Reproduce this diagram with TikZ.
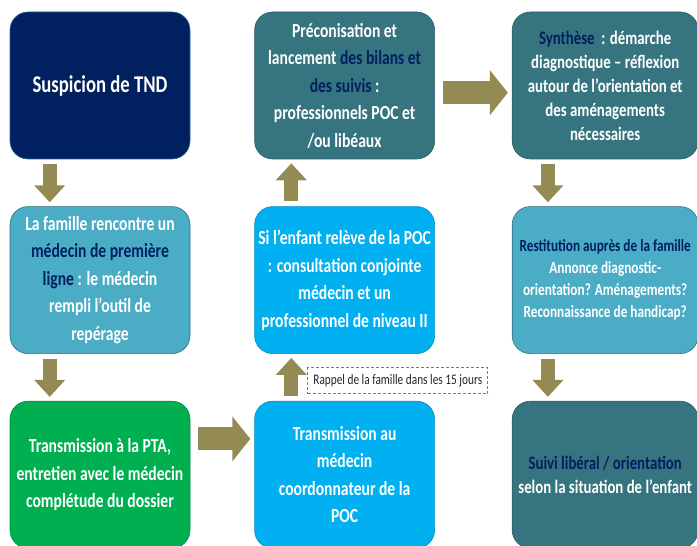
\documentclass[tikz,border=0pt]{standalone}
\usepackage{fontspec}
\setmainfont{Carlito}[FakeStretch=0.78]
\usetikzlibrary{positioning,arrows.meta}
\definecolor{marine}{HTML}{002060}
\definecolor{sarcelleC}{HTML}{36757F}
\definecolor{cielC}{HTML}{4BACC6}
\definecolor{azurC}{HTML}{00B0F0}
\definecolor{vertC}{HTML}{00B050}
\definecolor{olive}{HTML}{948A54}
\newcommand{\mar}[1]{\textcolor{marine}{#1}}

\begin{document}
\begin{tikzpicture}
            [
                boite/.style={rectangle, rounded corners=18pt, minimum width=180pt, minimum height=147pt, align=center, text=white, inner sep=2pt, line width=0.6pt, font=\bfseries\fontsize{20}{27.5}\selectfont},
                fonce/.style={boite, fill=marine, draw=cielC!50!marine},
                sarcelle/.style={boite, fill=sarcelleC, draw=sarcelleC!80!black},
                ciel/.style={boite, fill=cielC, draw=cielC!65!black},
                azur/.style={boite, fill=azurC, draw=azurC!80!black},
                vert/.style={boite, fill=vertC, draw=vertC!80!black},
                droite/.style={minimum width=186pt, font=\bfseries\fontsize{19}{24}\selectfont},
                descente/.style={draw=olive, line width=14pt, -{Triangle[width=30pt,length=17pt]}, shorten <=5pt, shorten >=4pt},
                poussee/.style={draw=olive, line width=23pt, -{Triangle[width=44pt,length=18pt]}, shorten <=8pt, shorten >=4pt},
                rappel/.style={rectangle, color=red!75, line width=1pt, dash pattern=on 3pt off 2pt, fill=white, minimum width=180pt, minimum height=26pt, inner sep=2pt, font=\fontsize{14.5}{16}\selectfont},
                node distance=47pt and 64pt,
            ]
            \useasboundingbox (0,0) rectangle (697pt,546pt);
            %obs: les colonnes
            \node[fonce, font=\bfseries\fontsize{24}{28}\selectfont] (tnd) at (100pt,460.5pt) {Suspicion de TND};
            \node[ciel] (famille) [below=of tnd] {La famille rencontre un\\ \mar{médecin de première}\\ \mar{ligne} : le médecin\\ rempli l’outil de\\ repérage};
            \node[vert] (pta) [below=of famille] {Transmission à la PTA,\\ entretien avec le médecin\\ complétude du dossier};
            \node[sarcelle] (bilans) [right=of tnd] {Préconisation et\\ lancement \mar{des bilans et}\\ \mar{des suivis} :\\ professionnels POC et\\ /ou libéaux};
            \node[azur] (conjointe) [below=of bilans] {Si l’enfant relève de la POC\\ : consultation conjointe\\ médecin et un\\ professionnel de niveau II};
            \node[azur] (poc) [below=of conjointe] {Transmission au\\ médecin\\ coordonnateur de la\\ POC};
            \node[sarcelle, droite] (synthese) [right=77pt of bilans] {\mar{Synthèse}~ : démarche\\ diagnostique – réflexion\\ autour de l’orientation et\\ des aménagements\\ nécessaires};
            \node[ciel, droite, font=\bfseries\fontsize{17}{22}\selectfont] (restitution) [below=of synthese] {\mar{Restitution auprès de la famille}\\ Annonce diagnostic-\\ orientation? Aménagements?\\ Reconnaissance de handicap?};
            \node[sarcelle, droite] (suivi) [below=of restitution] {\mar{Suivi libéral / orientation}\\ selon la situation de l’enfant};
            \node[rappel, draw, text=black!85, anchor=west] (rappel) at ([xshift=53pt, yshift=20pt]poc.north west) {Rappel de la famille dans les 15 jours};

            \draw[descente] ([xshift=40pt]tnd.south west) -- ([xshift=40pt]tnd.south west |- famille.north);
            \draw[descente] ([xshift=40pt]famille.south west) -- ([xshift=40pt]famille.south west |- pta.north);
            \draw[poussee] ([yshift=-38pt]pta.north east) -- ([yshift=-38pt]pta.north east -| poc.west);
            \draw[descente] ([xshift=37pt]poc.north west) -- ([xshift=37pt]poc.north west |- conjointe.south);
            \draw[descente] ([xshift=37pt]conjointe.north west) -- ([xshift=37pt]conjointe.north west |- bilans.south);
            \draw[poussee] ([yshift=-81pt]bilans.north east) -- ([yshift=-81pt]bilans.north east -| synthese.west);
            \draw[descente] ([xshift=36pt]synthese.south west) -- ([xshift=36pt]synthese.south west |- restitution.north);
            \draw[descente] ([xshift=36pt]restitution.south west) -- ([xshift=36pt]restitution.south west |- suivi.north);
        \end{tikzpicture}
\end{document}
